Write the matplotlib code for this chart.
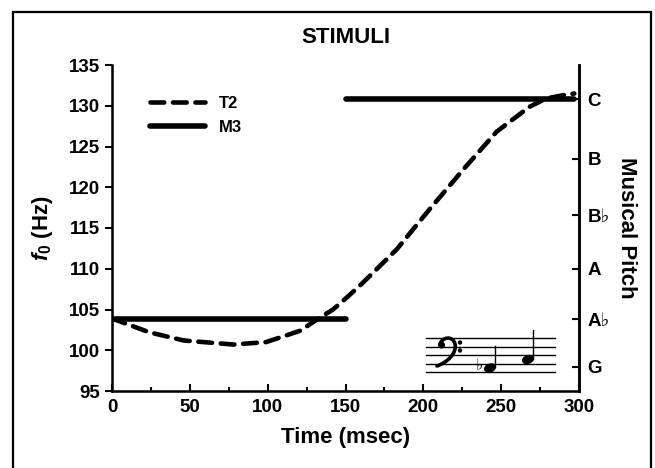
"""
STIMULI: f0 contour of the T2 tone vs. the M3 musical interval.
"""

import matplotlib.pyplot as plt
from matplotlib.patches import Circle, Ellipse, PathPatch, Rectangle
from matplotlib.path import Path

# T2 tone, dashed curve (time in ms, f0 in Hz)
t2_time = [0, 24, 46, 78, 99, 121, 131.5, 142, 151, 161, 183, 204, 226, 247, 268, 279, 290, 297]
t2_f0 = [103.9, 102.2, 101.2, 100.7, 101.0, 102.4, 103.75, 105.0, 106.5, 108.25, 112.4,
         117.3, 122.25, 126.8, 129.85, 130.9, 131.3, 131.5]

# M3 interval, two flat notes (A flat 2 then C3)
m3_time = [[0, 150], [150, 297]]
m3_f0 = [[103.83, 103.83], [130.81, 130.81]]

# Right axis: note names at their frequencies
pitch_hz = [130.81, 123.47, 116.54, 110.0, 103.83, 98.0]
pitch_names = ["C", "B", "B\u266d", "A", "A\u266d", "G"]

plt.rcParams["font.family"] = ["Liberation Sans", "DejaVu Sans"]
plt.rcParams["font.weight"] = "bold"
plt.rcParams["axes.labelweight"] = "bold"
plt.rcParams["mathtext.fontset"] = "custom"
plt.rcParams["mathtext.it"] = "Liberation Sans:italic:bold"
plt.rcParams["mathtext.rm"] = "Liberation Sans:bold"

fig = plt.figure(figsize=(6.55, 4.68), dpi=100)
W, H = 655, 468

# outer frame, cut off at the bottom like the original
fig.patches.append(Rectangle((13 / W, -0.05), 638 / W, 1.05 - 12 / H,
                             transform=fig.transFigure, fill=False, lw=1.6,
                             ec="black"))

ax = fig.add_axes([112 / W, 1 - 391 / H, 467 / W, 326 / H])

ax.plot(t2_time, t2_f0, color="black", lw=3.3, ls=(0, (3.0, 1.9)),
        dash_capstyle="round", label="T2")
for i, (xs, ys) in enumerate(zip(m3_time, m3_f0)):
    ax.plot(xs, ys, color="black", lw=4.0, solid_capstyle="round",
            label="M3" if i == 0 else None)

ax.set_xlim(0, 300)
ax.set_ylim(95, 135)
ax.set_xticks(range(0, 301, 50))
ax.set_xticks(range(25, 300, 50), minor=True)
ax.set_yticks(range(95, 136, 5))
ax.tick_params(axis="x", direction="in", length=5, width=1.5, labelsize=13.5, pad=6)
ax.tick_params(axis="x", which="minor", direction="in", length=3, width=1.5)
ax.tick_params(axis="y", direction="out", length=5, width=1.5, labelsize=13.5)
ax.spines["top"].set_visible(False)
for s in ("left", "bottom", "right"):
    ax.spines[s].set_linewidth(1.8)

ax.set_xlabel("Time (msec)", fontsize=16, labelpad=8)
ax.set_ylabel(r"$\mathit{f}_{\mathrm{0}}$ (Hz)", fontsize=16, labelpad=10)
ax.set_title("STIMULI", fontsize=16, fontweight="bold", pad=16)

ax.legend(loc="upper left", bbox_to_anchor=(0.05, 0.95), frameon=False,
          fontsize=12, handlelength=3.3, handletextpad=0.8, labelspacing=0.5)

axr = ax.twinx()
axr.set_ylim(95, 135)
axr.set_yticks(pitch_hz)
axr.set_yticklabels(pitch_names)
axr.tick_params(axis="y", direction="in", length=5, width=1.5, labelsize=13.5, pad=6)
axr.spines["top"].set_visible(False)
axr.spines["right"].set_linewidth(1.8)
axr.set_ylabel("Musical Pitch", fontsize=16, rotation=270, labelpad=20)

# small staff with the two notes, drawn in pixel units
st = fig.add_axes([420 / W, 1 - 382 / H, 140 / W, 52 / H])
st.set_xlim(420, 560)
st.set_ylim(382, 330)
st.axis("off")
for y in [338, 346.5, 355, 363.5, 372]:
    st.plot([426, 555], [y, y], color="black", lw=1.0)

# bass clef (no installed font has the glyph): dot, hook and two dots
clef = Path([(440, 345), (441, 337), (453, 335), (455, 344),
             (457, 353), (448, 362), (437, 366)],
            [Path.MOVETO, Path.CURVE4, Path.CURVE4, Path.CURVE4,
             Path.CURVE4, Path.CURVE4, Path.CURVE4])
st.add_patch(PathPatch(clef, fill=False, lw=2.6, ec="black", capstyle="round"))
st.add_patch(Circle((441.5, 345), 2.8, color="black"))
st.add_patch(Circle((460, 342.5), 1.5, color="black"))
st.add_patch(Circle((460, 350.5), 1.5, color="black"))

st.text(479, 366, "\u266d", fontsize=11, family=["DejaVu Sans"], ha="center",
        va="center", fontweight="normal")
st.add_patch(Ellipse((490, 368), 11, 7.5, angle=-20, color="black"))
st.plot([495, 495], [367, 346], color="black", lw=1.0)
st.add_patch(Ellipse((528, 359.5), 11, 7.5, angle=-20, color="black"))
st.plot([533, 533], [358.5, 328], color="black", lw=1.0)

fig.savefig("out.png", dpi=100)
